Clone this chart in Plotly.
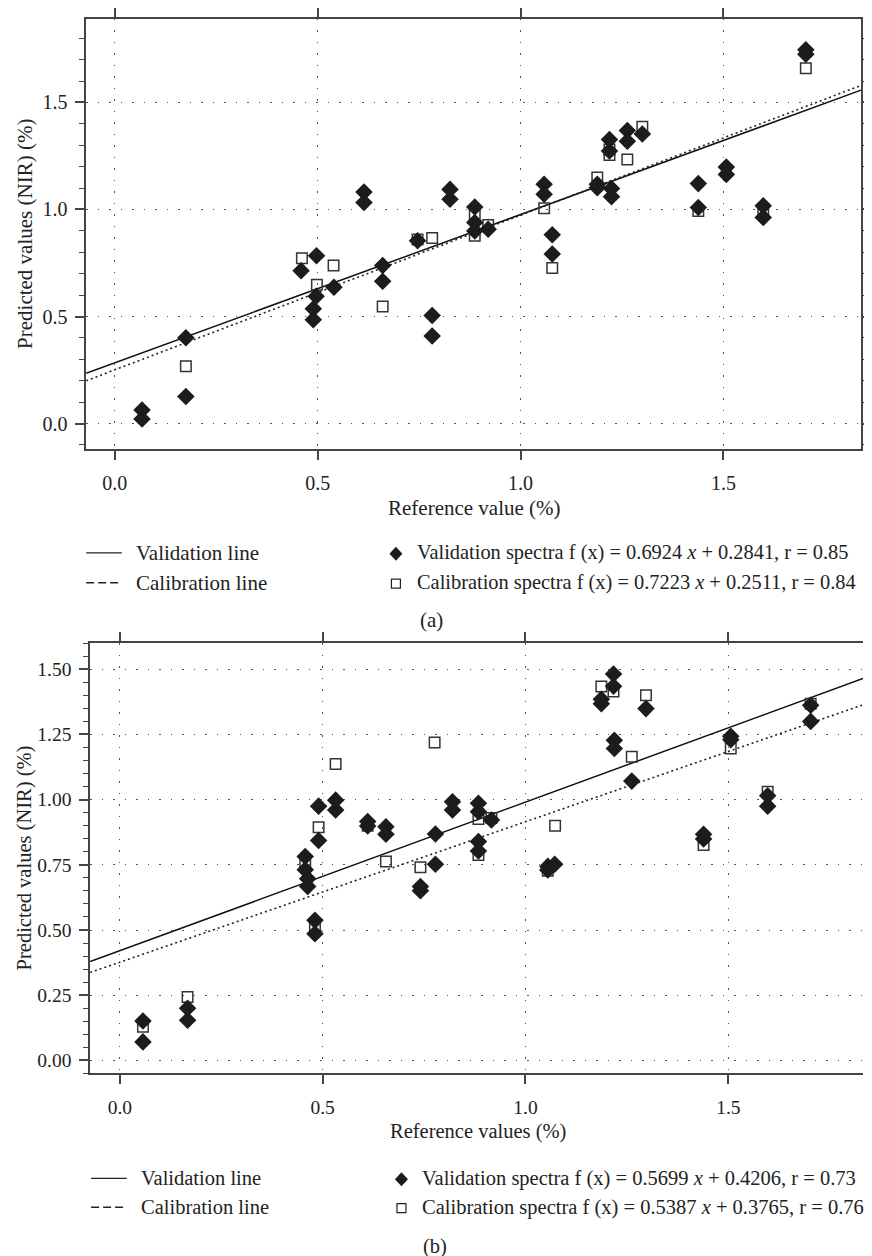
import plotly.graph_objects as go

# page is offset by the browser's 8px body margin
OFF = 8
W, H = 872 - OFF, 1256 - OFF

# ---------------- Panel (a) data ----------------
a_val_x = [0.067, 0.067, 0.175, 0.175, 0.459, 0.497, 0.496, 0.489, 0.489, 0.540,
           0.614, 0.614, 0.660, 0.660, 0.746, 0.782, 0.782, 0.826, 0.826, 0.887,
           0.887, 0.887, 0.920, 1.058, 1.058, 1.078, 1.078, 1.189, 1.189, 1.224,
           1.224, 1.219, 1.219, 1.263, 1.263, 1.300, 1.438, 1.438, 1.507, 1.507,
           1.598, 1.598, 1.703, 1.703]
a_val_y = [0.063, 0.021, 0.401, 0.126, 0.714, 0.784, 0.595, 0.536, 0.485, 0.637,
           1.082, 1.033, 0.738, 0.665, 0.854, 0.505, 0.409, 1.094, 1.048, 1.012,
           0.939, 0.900, 0.908, 1.118, 1.071, 0.882, 0.792, 1.118, 1.102, 1.098,
           1.060, 1.327, 1.273, 1.369, 1.319, 1.353, 1.121, 1.009, 1.198, 1.164,
           1.017, 0.963, 1.746, 1.725]
a_cal_x = [0.175, 0.461, 0.498, 0.539, 0.660, 0.746, 0.782, 0.887, 0.887, 0.920,
           1.058, 1.078, 1.189, 1.219, 1.219, 1.263, 1.300, 1.438, 1.598, 1.703]
a_cal_y = [0.268, 0.772, 0.648, 0.738, 0.547, 0.860, 0.867, 0.978, 0.877, 0.928,
           1.006, 0.727, 1.149, 1.254, 1.280, 1.233, 1.387, 0.993, 1.000, 1.660]
a_val_fit = [0.6924, 0.2841]   # slope, intercept
a_cal_fit = [0.7223, 0.2511]
a_xrange = [-0.0707, 1.839]
a_yrange = [-0.12, 1.89]

# ---------------- Panel (b) data ----------------
b_val_x = [0.057, 0.057, 0.167, 0.167, 0.457, 0.457, 0.463, 0.463, 0.481, 0.481,
           0.490, 0.490, 0.532, 0.532, 0.611, 0.611, 0.656, 0.656, 0.741, 0.741,
           0.778, 0.778, 0.820, 0.820, 0.884, 0.884, 0.884, 0.884, 0.916, 1.055,
           1.055, 1.072, 1.187, 1.187, 1.217, 1.217, 1.219, 1.219, 1.297, 1.262,
           1.439, 1.439, 1.506, 1.506, 1.597, 1.597, 1.703, 1.703]
b_val_y = [0.151, 0.071, 0.200, 0.154, 0.782, 0.731, 0.697, 0.667, 0.537, 0.486,
           0.975, 0.843, 0.998, 0.960, 0.916, 0.899, 0.896, 0.867, 0.667, 0.651,
           0.868, 0.752, 0.992, 0.960, 0.986, 0.954, 0.839, 0.803, 0.922, 0.744,
           0.730, 0.752, 1.385, 1.368, 1.482, 1.435, 1.228, 1.196, 1.349, 1.071,
           0.867, 0.849, 1.243, 1.230, 1.015, 0.975, 1.362, 1.300]
b_cal_x = [0.057, 0.167, 0.457, 0.481, 0.490, 0.532, 0.611, 0.656, 0.741, 0.776,
           0.884, 0.884, 0.916, 1.055, 1.073, 1.187, 1.217, 1.262, 1.297, 1.439,
           1.506, 1.597, 1.703]
b_cal_y = [0.129, 0.243, 0.756, 0.514, 0.894, 1.137, 0.900, 0.763, 0.741, 1.219,
           0.926, 0.788, 0.930, 0.727, 0.900, 1.434, 1.415, 1.164, 1.400, 0.826,
           1.196, 1.030, 1.368]
b_val_fit = [0.5699, 0.4206]
b_cal_fit = [0.5387, 0.3765]
b_xrange = [-0.0732, 1.832]
b_yrange = [-0.05, 1.60]

a_xticks = ["0.0", "0.5", "1.0", "1.5"]
a_yticks = ["0.0", "0.5", "1.0", "1.5"]
b_xticks = ["0.0", "0.5", "1.0", "1.5"]
b_yticks = ["0.00", "0.25", "0.50", "0.75", "1.00", "1.25", "1.50"]

FONT = "Liberation Serif"
TXT = "#222222"
AX = "#444444"
DIA = "#1c1c1c"


def px(x):
    return (x - OFF) / W


def py(y):
    return 1 - (y - OFF) / H


fig = go.Figure()


def add_panel(xa, ya, val_x, val_y, cal_x, cal_y, vfit, cfit, xr):
    xs = [xr[0], xr[1]]
    fig.add_trace(go.Scatter(x=xs, y=[vfit[0] * v + vfit[1] for v in xs], mode="lines",
                             line=dict(color="#111111", width=1.5), xaxis=xa, yaxis=ya,
                             showlegend=False, hoverinfo="skip"))
    fig.add_trace(go.Scatter(x=xs, y=[cfit[0] * v + cfit[1] for v in xs], mode="lines",
                             line=dict(color="#222222", width=1.6, dash="2px,3px"), xaxis=xa, yaxis=ya,
                             showlegend=False, hoverinfo="skip"))
    fig.add_trace(go.Scatter(x=cal_x, y=cal_y, mode="markers",
                             marker=dict(symbol="square-open", size=10.5, color="#333333",
                                         line=dict(width=1.5, color="#333333")),
                             xaxis=xa, yaxis=ya, showlegend=False))
    fig.add_trace(go.Scatter(x=val_x, y=val_y, mode="markers",
                             marker=dict(symbol="diamond", size=13.5, color=DIA, line=dict(width=0)),
                             xaxis=xa, yaxis=ya, showlegend=False))


add_panel("x", "y", a_val_x, a_val_y, a_cal_x, a_cal_y, a_val_fit, a_cal_fit, a_xrange)
add_panel("x2", "y2", b_val_x, b_val_y, b_cal_x, b_cal_y, b_val_fit, b_cal_fit, b_xrange)


def axis_style(fs, **kw):
    d = dict(showline=True, linecolor=AX, linewidth=1.5, ticks="outside", ticklen=9,
             tickwidth=1.5, tickcolor=AX, showgrid=True, gridcolor="#555555",
             griddash="1.5px,10px", gridwidth=1, zeroline=False,
             tickfont=dict(family=FONT, size=fs, color=TXT))
    d.update(kw)
    return d


fig.update_layout(
    width=W, height=H, paper_bgcolor="white", plot_bgcolor="white",
    margin=dict(l=0, r=0, t=0, b=0), showlegend=False,
    xaxis=axis_style(20, domain=[px(87), px(870)], range=a_xrange, anchor="y",
                     tickmode="array", tickvals=[0, 0.5, 1.0, 1.5], ticktext=a_xticks,
                     mirror="ticks", ticklabelstandoff=6),
    yaxis=axis_style(20, domain=[py(446), py(14)], range=a_yrange, anchor="x",
                     tickmode="array", tickvals=[0, 0.5, 1.0, 1.5], ticktext=a_yticks,
                     mirror="allticks", ticklabelstandoff=4,
                     minor=dict(tickmode="linear", tick0=0, dtick=0.1, ticks="outside",
                                ticklen=5, tickwidth=1.2, tickcolor=AX, showgrid=False)),
    xaxis2=axis_style(19.5, domain=[px(91), 1.0], range=b_xrange, anchor="y2",
                      tickmode="array", tickvals=[0, 0.5, 1.0, 1.5], ticktext=b_xticks,
                      mirror="ticks", ticklabelstandoff=6),
    yaxis2=axis_style(19.5, domain=[py(1072.7), py(640.7)], range=b_yrange, anchor="x2",
                      tickmode="array", tickvals=[0, 0.25, 0.5, 0.75, 1.0, 1.25, 1.5],
                      ticktext=b_yticks, ticklabelstandoff=4,
                      minor=dict(tickmode="linear", tick0=0, dtick=0.05, ticks="outside",
                                 ticklen=5, tickwidth=1.2, tickcolor=AX, showgrid=False)),
)

ann = []
shapes = []


def text(x, y, s, fs, xanchor="left", angle=0):
    ann.append(dict(x=px(x), y=py(y), xref="paper", yref="paper", text=s, showarrow=False,
                    xanchor=xanchor, yanchor="middle", textangle=angle,
                    font=dict(family=FONT, size=fs, color=TXT)))


def legend_block(x0, y1, y2, xm, fs, fs2, vtxt, ctxt):
    shapes.append(dict(type="line", xref="paper", yref="paper", x0=px(x0), x1=px(x0 + 36),
                       y0=py(y1), y1=py(y1), line=dict(color="#222222", width=1.3)))
    shapes.append(dict(type="line", xref="paper", yref="paper", x0=px(x0), x1=px(x0 + 36),
                       y0=py(y2), y1=py(y2), line=dict(color="#222222", width=1.4, dash="8px,4px")))
    text(x0 + 48, y1, "Validation line", fs)
    text(x0 + 48, y2, "Calibration line", fs)
    shapes.append(dict(type="path", xref="paper", yref="paper", xsizemode="pixel", ysizemode="pixel",
                       xanchor=px(xm), yanchor=py(y1 + 1), path="M -6.5 0 L 0 7 L 6.5 0 L 0 -7 Z",
                       fillcolor=DIA, line=dict(width=0)))
    shapes.append(dict(type="path", xref="paper", yref="paper", xsizemode="pixel", ysizemode="pixel",
                       xanchor=px(xm), yanchor=py(y2 + 1), path="M -4.5 -4.5 L 4.5 -4.5 L 4.5 4.5 L -4.5 4.5 Z",
                       fillcolor="rgba(0,0,0,0)", line=dict(width=1.2, color="#222222")))
    text(xm + 19, y1, vtxt, fs2)
    text(xm + 19, y2, ctxt, fs2)


# Panel (a) texts
text(25, 230, "Predicted values (NIR) (%)", 21, xanchor="center", angle=-90)
text(479, 505, "Reference value (%)", 21, xanchor="center")
legend_block(87, 550, 580, 400, 21, 20.4,
             "Validation spectra f (x) = 0.6924 <i>x</i> + 0.2841, r = 0.85",
             "Calibration spectra f (x) = 0.7223 <i>x</i> + 0.2511, r = 0.84")
text(436, 617, "(a)", 21, xanchor="center")

# Panel (b) texts
text(25, 856, "Predicted values (NIR) (%)", 20.5, xanchor="center", angle=-90)
text(483, 1131, "Reference values (%)", 20.5, xanchor="center")
legend_block(92, 1178, 1207, 405.6, 20.5, 20.5,
             "Validation spectra f (x) = 0.5699 <i>x</i> + 0.4206, r = 0.73",
             "Calibration spectra f (x) = 0.5387 <i>x</i> + 0.3765, r = 0.76")
text(439, 1246, "(b)", 20.5, xanchor="center")

fig.update_layout(annotations=ann, shapes=shapes)
fig.write_html("out.html")
